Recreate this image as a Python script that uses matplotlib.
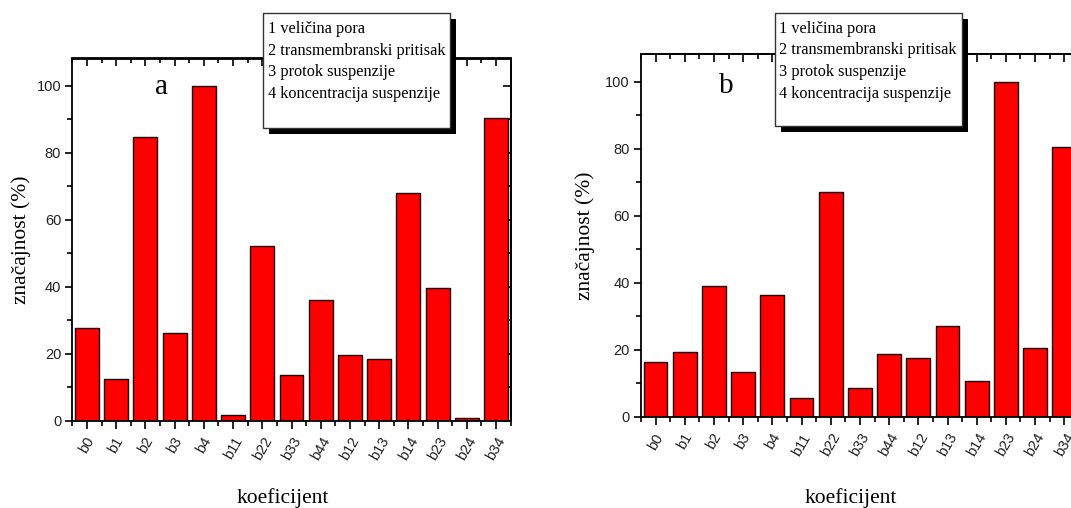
import matplotlib
matplotlib.use("Agg")
import matplotlib.pyplot as plt
from matplotlib.patches import Rectangle
from matplotlib.ticker import FixedLocator, NullFormatter
import numpy as np

W, H = 1071, 508
DPI = 100

categories = ["b0", "b1", "b2", "b3", "b4", "b11", "b22", "b33", "b44",
              "b12", "b13", "b14", "b23", "b24", "b34"]
values_a = [27.6, 12.3, 84.6, 26.1, 100.0, 1.5, 52.3, 13.5, 36.1,
            19.5, 18.3, 68.1, 39.5, 0.7, 90.5]
values_b = [16.4, 19.4, 39.1, 13.4, 36.4, 5.7, 67.2, 8.5, 18.8,
            17.6, 27.1, 10.7, 100.0, 20.6, 80.5]
legend_lines = ["1 veličina pora", "2 transmembranski pritisak",
                "3 protok suspenzije", "4 koncentracija suspenzije"]
panel_labels = ["a", "b"]
ylabel = "značajnost (%)"
xlabel = "koeficijent"
yticks_major = [0, 20, 40, 60, 80, 100]
yticks_minor = [10, 30, 50, 70, 90]

SERIF = ["Liberation Serif", "DejaVu Serif"]
SANS = ["Liberation Sans", "DejaVu Sans"]

fig = plt.figure(figsize=(W / DPI, H / DPI), dpi=DPI)


def fx(x):
    return x / W


def fy(y):
    return 1 - y / H


def make_panel(left, right, top, bottom, vals, label, label_xy,
               box, ylab_x, xlab_x):
    ax = fig.add_axes([fx(left), fy(bottom), fx(right - left),
                       (bottom - top) / H])
    x = np.arange(len(categories))
    ax.bar(x, vals, width=0.82, color="#ff0000", edgecolor="#1a0000",
           linewidth=1.0, zorder=2)
    ax.set_xlim(-0.5, len(categories) - 0.5)
    ax.set_ylim(0, 108.2)
    for s in ax.spines.values():
        s.set_linewidth(1.3)
        s.set_color("black")
    minor_x = np.arange(-0.5, len(categories), 1.0)
    ax.xaxis.set_major_locator(FixedLocator(x))
    ax.xaxis.set_minor_locator(FixedLocator(minor_x))
    ax.set_xticklabels(categories, rotation=60, ha="center", va="top",
                       family=SANS, fontsize=10.5, color="#222222")
    ax.set_yticks(yticks_major)
    ax.yaxis.set_minor_locator(FixedLocator(yticks_minor))
    ax.set_yticklabels([str(v) for v in yticks_major], family=SANS,
                       fontsize=10.5, color="#222222")
    ax.tick_params(axis="x", which="major", direction="out", length=6,
                   width=1.2, pad=4)
    ax.tick_params(axis="x", which="minor", direction="out", length=3.5,
                   width=1.2)
    ax.tick_params(axis="y", which="major", direction="out", length=5,
                   width=1.2, pad=3)
    ax.tick_params(axis="y", which="minor", direction="out", length=3.5,
                   width=1.2)
    # mirrored inward ticks on top and right
    top_ax = ax.secondary_xaxis("top")
    top_ax.xaxis.set_major_locator(FixedLocator(x))
    top_ax.xaxis.set_minor_locator(FixedLocator(minor_x))
    top_ax.xaxis.set_major_formatter(NullFormatter())
    top_ax.tick_params(which="major", direction="in", length=6, width=1.2)
    top_ax.tick_params(which="minor", direction="in", length=3.5, width=1.2)
    top_ax.spines["top"].set_linewidth(1.3)
    right_ax = ax.secondary_yaxis("right")
    right_ax.yaxis.set_major_locator(FixedLocator(yticks_major))
    right_ax.yaxis.set_minor_locator(FixedLocator(yticks_minor))
    right_ax.yaxis.set_major_formatter(NullFormatter())
    right_ax.tick_params(which="major", direction="in", length=6, width=1.2)
    right_ax.tick_params(which="minor", direction="in", length=3.5, width=1.2)
    right_ax.spines["right"].set_linewidth(1.3)
    # panel letter
    fig.text(fx(label_xy[0]), fy(label_xy[1]), label, family=SERIF,
             fontsize=21, ha="center", va="baseline")
    # axis labels
    fig.text(fx(ylab_x), fy((top + bottom) / 2), ylabel, family=SERIF,
             fontsize=15.5, rotation=90, ha="center", va="center")
    fig.text(fx(xlab_x), fy(503), xlabel, family=SERIF, fontsize=15.5,
             ha="center", va="baseline")
    # legend box with shadow
    bx0, by0, bx1, by1 = box
    sh = 6
    fig.add_artist(Rectangle((fx(bx0 + sh), fy(by1 + sh)),
                             fx(bx1 - bx0), (by1 - by0) / H,
                             transform=fig.transFigure, facecolor="black",
                             edgecolor="none", zorder=10))
    fig.add_artist(Rectangle((fx(bx0), fy(by1)), fx(bx1 - bx0),
                             (by1 - by0) / H, transform=fig.transFigure,
                             facecolor="white", edgecolor="#333333",
                             linewidth=1.0, zorder=11))
    for i, line in enumerate(legend_lines):
        fig.text(fx(bx0 + 4.5), fy(by0 + 19.8 + 21.7 * i), line,
                 family=SERIF, fontsize=11.7, ha="left", va="baseline",
                 zorder=12)
    return ax


make_panel(72.3, 510.7, 58.5, 420.5, values_a, panel_labels[0],
           (162, 94.5), (263.4, 13.1, 450.4, 128.1), 21, 283)
make_panel(640.9, 1078.9, 54.2, 417.0, values_b, panel_labels[1],
           (726.6, 93.1), (774.7, 12.9, 961.6, 126.0), 585, 851)

fig.savefig("out.png", dpi=DPI)
